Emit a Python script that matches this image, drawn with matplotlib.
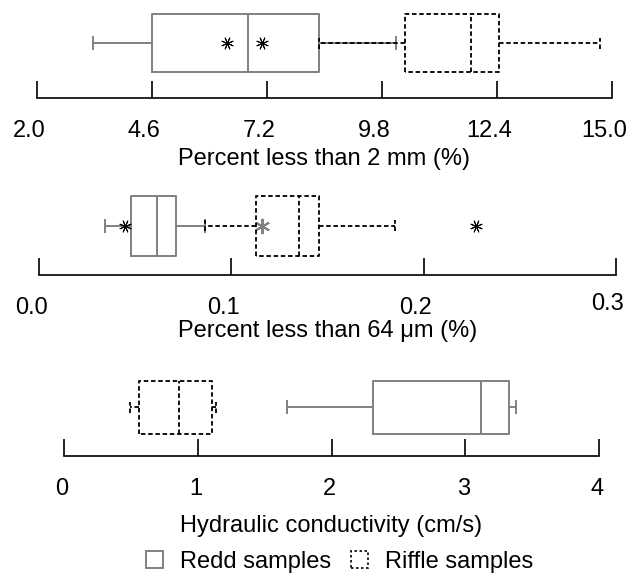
import matplotlib
matplotlib.use("Agg")
import matplotlib.pyplot as plt
from matplotlib.patches import Rectangle
from matplotlib.transforms import ScaledTranslation

plt.rcParams["font.family"] = ["Liberation Sans", "DejaVu Sans"]

# box stats: [whisker low, Q1, median, Q3, whisker high]
fine_redd = [3.27, 4.6, 6.76, 8.37, 10.12]
fine_riffle = [8.37, 10.33, 11.82, 12.44, 14.73]
fine_riffle_out = [6.29, 7.08]
fine_ticks = [2.0, 4.6, 7.2, 9.8, 12.4, 15.0]

silt_redd = [0.0344, 0.048, 0.0615, 0.0714, 0.0865]
silt_redd_out = [0.116]
silt_riffle = [0.0865, 0.113, 0.135, 0.1458, 0.185]
silt_riffle_out = [0.0448, 0.227]
silt_ticks = [0.0, 0.1, 0.2, 0.3]

hc_redd = [1.67, 2.31, 3.12, 3.33, 3.38]
hc_riffle = [0.49, 0.56, 0.86, 1.11, 1.14]
hc_ticks = [0, 1, 2, 3, 4]

labels = ["Percent less than 2 mm (%)",
          "Percent less than 64 \u03bcm (%)",
          "Hydraulic conductivity (cm/s)"]

GRAY = "#808080"
FS = 17
W, H = 628, 574

fig = plt.figure(figsize=(W / 100, H / 100), dpi=100)


def stats(v, out=()):
    return dict(whislo=v[0], q1=v[1], med=v[2], q3=v[3], whishi=v[4], fliers=list(out))


def panel(x0, x1, axis_y, top_y, center_y, box_h, xlim, ticks, ticklabels,
          redd, riffle, redd_out, riffle_out, label, labelpad, shift):
    ax = fig.add_axes([x0 / W, (H - axis_y) / H, (x1 - x0) / W, (axis_y - top_y) / H])
    pos = axis_y - center_y
    solid = dict(color=GRAY, linewidth=1.4, linestyle="-")
    dotted = dict(color="black", linewidth=1.3, linestyle=(0, (2.5, 1.5)))
    ax.bxp([stats(redd, redd_out)], positions=[pos], widths=box_h,
           orientation="horizontal", capwidths=12, showfliers=True,
           boxprops=solid, whiskerprops=solid, capprops=solid, medianprops=solid,
           flierprops=dict(marker=(6, 2, 0), markersize=11, markeredgecolor=GRAY,
                           markeredgewidth=1.4, linestyle="none"))
    ax.bxp([stats(riffle, riffle_out)], positions=[pos], widths=box_h,
           orientation="horizontal", capwidths=11, showfliers=True,
           boxprops=dotted, whiskerprops=dotted, capprops=dotted, medianprops=dotted,
           flierprops=dict(marker=(8, 2, 22.5), markersize=9, markeredgecolor="black",
                           markeredgewidth=0.7, linestyle="none"))
    ax.set_xlim(*xlim)
    ax.set_ylim(0, axis_y - top_y)
    for s in ["top", "left", "right"]:
        ax.spines[s].set_visible(False)
    ax.spines["bottom"].set_linewidth(1.2)
    ax.set_yticks([])
    ax.set_xticks(ticks)
    ax.set_xticklabels(ticklabels)
    ax.tick_params(axis="x", direction="in", length=12.5, width=1.2, pad=15.5,
                   labelsize=FS)
    # the printed labels sit a little left of their ticks
    for t in ax.get_xticklabels():
        t.set_transform(t.get_transform() +
                        ScaledTranslation(shift / 100, 0, fig.dpi_scale_trans))
    ax.set_xlabel(label, fontsize=FS, labelpad=labelpad)
    return ax


panel(37, 612, 98, 5, 43, 58, (2.0, 15.0), fine_ticks,
      ["%.1f" % t for t in fine_ticks], fine_redd, fine_riffle, [], fine_riffle_out,
      labels[0], 5, -8)
ax2 = panel(39, 616, 275, 186, 226, 61, (0.0, 0.3), silt_ticks,
            ["%.1f" % t for t in silt_ticks], silt_redd, silt_riffle, silt_redd_out,
            silt_riffle_out, labels[1], 1, -8)
panel(64, 599, 456, 368, 407, 53, (0, 4), hc_ticks,
      [str(t) for t in hc_ticks], hc_redd, hc_riffle, [], [], labels[2], 11, -2)

# "0.3" is printed slightly higher in the original
last = ax2.get_xticklabels()[-1]
last.set_transform(last.get_transform() +
                   ScaledTranslation(0, 4 / 100, fig.dpi_scale_trans))

handles = [Rectangle((0, 0), 1, 1, facecolor="white", edgecolor=GRAY, linewidth=1.4),
           Rectangle((0, 0), 1, 1, facecolor="white", edgecolor="black",
                     linewidth=1.2, linestyle=(0, (1.5, 1.5)))]
fig.legend(handles, ["Redd samples", "Riffle samples"], loc="center left",
           bbox_to_anchor=(146 / W, (H - 562) / H), ncol=2, frameon=False,
           fontsize=FS, handlelength=0.72, handleheight=0.72, handletextpad=0.72,
           columnspacing=0.85, borderpad=0, borderaxespad=0)

fig.savefig("out.png", dpi=100)
